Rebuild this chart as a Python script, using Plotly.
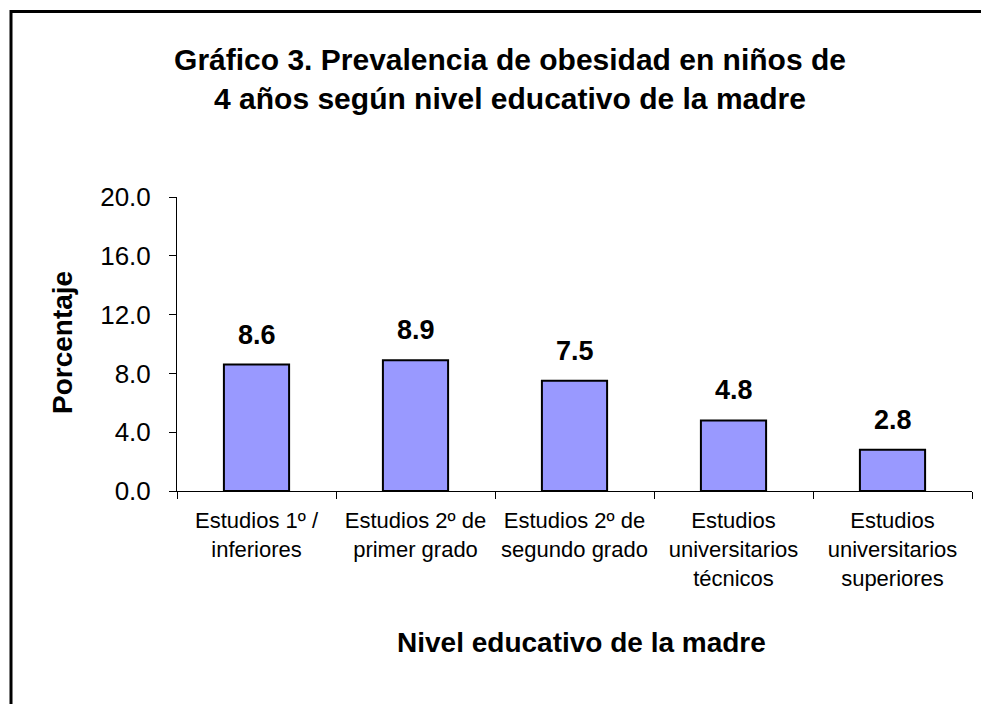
import plotly.graph_objects as go

categories = [
    "Estudios 1º /<br>inferiores",
    "Estudios 2º de<br>primer grado",
    "Estudios 2º de<br>segundo grado",
    "Estudios<br>universitarios<br>técnicos",
    "Estudios<br>universitarios<br>superiores",
]
values = [8.6, 8.9, 7.5, 4.8, 2.8]
y_ticks = [0, 4, 8, 12, 16, 20]

# the page body has an 8px margin; work in screenshot pixels and shift
OFF = 8
W, H = 989, 704
PL, PR, PT, PB = 177, 972, 197, 491          # plot area in screenshot px
L, R, T, B = PL - OFF, W - (PR - OFF), PT - OFF, H - (PB - OFF)
PW, PH = W - L - R, H - T - B


def px_x(px):
    return (px - OFF - L) / PW


def px_y(py):
    return (H - B - (py - OFF)) / PH


FONT = "Liberation Sans, Arial, sans-serif"

fig = go.Figure()
fig.add_trace(go.Bar(
    x=categories,
    y=values,
    width=0.41,
    marker=dict(color="#9999FF", line=dict(color="black", width=2)),
    showlegend=False,
    hoverinfo="skip",
))

for c, v in zip(categories, values):
    fig.add_annotation(
        x=c, y=v, xref="x", yref="y",
        text=f"<b>{v:.1f}</b>",
        showarrow=False, yanchor="bottom", yshift=13,
        font=dict(family=FONT, size=27, color="black"),
    )

fig.add_annotation(
    x=px_x(581), y=px_y(642), xref="paper", yref="paper",
    text="<b>Nivel educativo de la madre</b>", showarrow=False,
    xanchor="center", yanchor="middle",
    font=dict(family=FONT, size=28, color="black"),
)
fig.add_annotation(
    x=px_x(62), y=px_y(343), xref="paper", yref="paper",
    text="<b>Porcentaje</b>", showarrow=False, textangle=-90,
    xanchor="center", yanchor="middle",
    font=dict(family=FONT, size=28, color="black"),
)

# outer frame (left and top edges visible)
fig.add_shape(type="line", xref="paper", yref="paper",
              x0=px_x(11), x1=px_x(11), y0=px_y(10), y1=px_y(730),
              line=dict(color="black", width=3))
fig.add_shape(type="line", xref="paper", yref="paper",
              x0=px_x(10), x1=px_x(1010), y0=px_y(11.5), y1=px_y(11.5),
              line=dict(color="black", width=3))

fig.update_layout(
    width=W, height=H,
    margin=dict(l=L, r=R, t=T, b=B, autoexpand=False),
    paper_bgcolor="white", plot_bgcolor="white",
    title=dict(
        text="<b>Gráfico 3. Prevalencia de obesidad en niños de<br>4 años según nivel educativo de la madre</b>",
        x=(510 - OFF) / W, xanchor="center", xref="container",
        y=1 - (70 - OFF) / H, yanchor="middle", yref="container",
        font=dict(family=FONT, size=30, color="black"),
    ),
    font=dict(family=FONT, color="black"),
    bargap=0.59,
)
fig.update_xaxes(
    showline=True, linecolor="black", linewidth=1,
    ticks="outside", ticklen=7, tickcolor="black", tickson="boundaries",
    showgrid=False, zeroline=False, tickangle=0,
    tickfont=dict(family=FONT, size=22, color="black"),
    ticklabelstandoff=10,
    automargin=False,
)
fig.update_yaxes(
    range=[0, 20], tickvals=y_ticks, tickformat=".1f",
    showline=True, linecolor="black", linewidth=1,
    ticks="outside", ticklen=7, tickcolor="black",
    showgrid=False, zeroline=False,
    tickfont=dict(family=FONT, size=26, color="black"),
    ticklabelstandoff=13,
    automargin=False,
)

fig.write_html("out.html")
